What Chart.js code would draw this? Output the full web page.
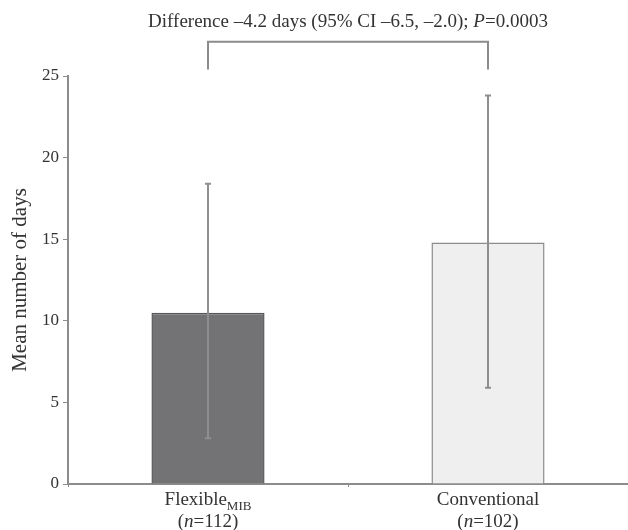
<!DOCTYPE html>
<html>
<head>
<meta charset="utf-8">
<script src="https://cdn.jsdelivr.net/npm/chart.js@4"></script>
<style>
  html, body { margin: 0; padding: 0; background: #ffffff; }
  #wrap { width: 628px; height: 530px; }
</style>
</head>
<body>
<div id="wrap"><canvas id="c" width="628" height="530"></canvas></div>
<script>
// ---- data ----
const categories = ['Flexible', 'Conventional'];
const subscripts = ['MIB', ''];
const sampleSizes = ['112', '102'];
const means = [10.5, 14.8];
const errLow = [2.8, 5.9];
const errHigh = [18.4, 23.8];
const yTickValues = [0, 5, 10, 15, 20, 25];
const yTitle = 'Mean number of days';
const diffText = 'Difference –4.2 days (95% CI –6.5, –2.0); ';
const pText = 'P';
const pValueText = '=0.0003';
const bracketTopValue = 27.1;
const bracketBottomValue = 25.4;

const SERIF = '"Liberation Serif", "DejaVu Serif", serif';
const TEXT = '#333333';
const AXIS = '#8c8c8c';

const extras = {
  id: 'extras',
  afterDatasetsDraw(chart) {
    const ctx = chart.ctx;
    const x = chart.scales.x, y = chart.scales.y;
    ctx.save();
    ctx.strokeStyle = '#8e8e8e';
    ctx.lineWidth = 2;
    categories.forEach((c, i) => {
      const px = Math.round(x.getPixelForValue(i));
      const yl = y.getPixelForValue(errLow[i]);
      const yh = y.getPixelForValue(errHigh[i]);
      ctx.beginPath();
      ctx.moveTo(px, yl); ctx.lineTo(px, yh);
      ctx.moveTo(px - 3, yl); ctx.lineTo(px + 3, yl);
      ctx.moveTo(px - 3, yh); ctx.lineTo(px + 3, yh);
      ctx.stroke();
    });
    ctx.restore();
  },
  afterDraw(chart) {
    const ctx = chart.ctx;
    const x = chart.scales.x, y = chart.scales.y;
    ctx.save();
    // bracket
    const x1 = x.getPixelForValue(0), x2 = x.getPixelForValue(1);
    const yt = y.getPixelForValue(bracketTopValue);
    const yb = y.getPixelForValue(bracketBottomValue);
    ctx.strokeStyle = AXIS;
    ctx.lineWidth = 2;
    ctx.beginPath();
    ctx.moveTo(x1, yb); ctx.lineTo(x1, yt); ctx.lineTo(x2, yt); ctx.lineTo(x2, yb);
    ctx.stroke();
    // annotation text
    ctx.fillStyle = TEXT;
    ctx.textBaseline = 'alphabetic';
    ctx.textAlign = 'left';
    const normal = '19px ' + SERIF, italic = 'italic 19px ' + SERIF, sub = '13px ' + SERIF;
    ctx.font = normal; const w1 = ctx.measureText(diffText).width;
    ctx.font = italic; const w2 = ctx.measureText(pText).width;
    ctx.font = normal; const w3 = ctx.measureText(pValueText).width;
    let sx = 348 - (w1 + w2 + w3) / 2;
    const by = 27;
    ctx.font = normal; ctx.fillText(diffText, sx, by); sx += w1;
    ctx.font = italic; ctx.fillText(pText, sx, by); sx += w2;
    ctx.font = normal; ctx.fillText(pValueText, sx, by);
    // x category labels
    categories.forEach((c, i) => {
      const px = x.getPixelForValue(i);
      ctx.font = normal; const cw = ctx.measureText(c).width;
      ctx.font = sub; const sw = subscripts[i] ? ctx.measureText(subscripts[i]).width : 0;
      let lx = px - (cw + sw) / 2;
      ctx.font = normal; ctx.fillText(c, lx, 505);
      if (subscripts[i]) { ctx.font = sub; ctx.fillText(subscripts[i], lx + cw, 510); }
      const a = '(', b = 'n', d = '=' + sampleSizes[i] + ')';
      ctx.font = normal; const aw = ctx.measureText(a).width, dw = ctx.measureText(d).width;
      ctx.font = italic; const bw = ctx.measureText(b).width;
      let qx = px - (aw + bw + dw) / 2;
      ctx.font = normal; ctx.fillText(a, qx, 527); qx += aw;
      ctx.font = italic; ctx.fillText(b, qx, 527); qx += bw;
      ctx.font = normal; ctx.fillText(d, qx, 527);
    });
    ctx.restore();
  }
};

new Chart(document.getElementById('c'), {
  type: 'bar',
  data: {
    labels: categories,
    datasets: [{
      data: means,
      backgroundColor: ['#737375', '#efefef'],
      borderColor: ['#58585a', '#8c8c8c'],
      borderWidth: 1.5,
      barPercentage: 0.404,
      categoryPercentage: 1.0
    }]
  },
  options: {
    responsive: false,
    animation: false,
    layout: { padding: { top: 76, left: 0, right: 0, bottom: 0 } },
    plugins: { legend: { display: false }, tooltip: { enabled: false } },
    scales: {
      x: {
        afterFit(s) { s.height = 46; },
        border: { display: true, color: AXIS, width: 2 },
        grid: { display: true, offset: true, drawOnChartArea: false, drawTicks: true, tickLength: 3, color: AXIS },
        ticks: { display: false }
      },
      y: {
        min: 0, max: 25,
        afterFit(s) { s.width = 68; },
        afterBuildTicks(s) { s.ticks = yTickValues.map(v => ({ value: v })); },
        border: { display: true, color: AXIS, width: 2 },
        grid: { display: true, drawOnChartArea: false, drawTicks: true, tickLength: 5, color: AXIS },
        ticks: { color: TEXT, font: { family: SERIF, size: 17 }, padding: 4 },
        title: { display: true, text: yTitle, color: TEXT, font: { family: SERIF, size: 21 }, padding: { top: 8, bottom: 4 } }
      }
    }
  },
  plugins: [extras]
});
</script>
</body>
</html>
